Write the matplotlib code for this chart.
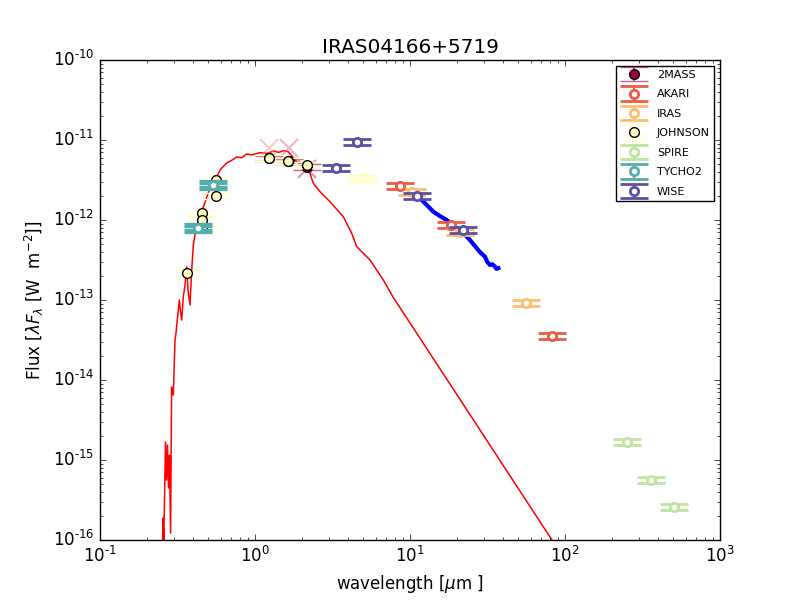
import numpy as np
import matplotlib
matplotlib.use('Agg')
import matplotlib.pyplot as plt
from matplotlib.container import ErrorbarContainer
from matplotlib.legend_handler import HandlerErrorbar
from matplotlib.ticker import FuncFormatter

plt.style.use('classic')
plt.rcParams['mathtext.fontset'] = 'dejavusans'
plt.rcParams['axes.unicode_minus'] = False

# photospheric model (um, W m-2)
model_wave = [0.2530, 0.2549, 0.2580, 0.2646, 0.2686, 0.2726, 0.2767, 0.2808, 0.2854,
              0.2897, 0.2971, 0.3047, 0.3092, 0.3162, 0.3248, 0.3307, 0.3366, 0.3446,
              0.3535, 0.3625, 0.3696, 0.3807, 0.3905, 0.3999, 0.4101, 0.4206, 0.4417,
              0.4639, 0.4995, 0.528, 0.5663, 0.5944, 0.6569, 0.7000, 0.7620, 0.8200,
              0.8842, 0.9500, 1.077, 1.200, 1.313, 1.420, 1.522, 1.640, 1.858, 2.156,
              2.264, 2.377, 2.627, 3.047, 3.713, 4.206, 4.530, 5.52, 6.725, 7.77, 82.4, 100.0]
model_flux = [8.7e-17, 1.88e-16, 1.0e-16, 1.68e-15, 5.6e-16, 1.54e-15, 4.47e-16, 1.15e-15, 1.22e-16,
              8.2e-15, 6.5e-15, 3.16e-14, 3.87e-14, 5.96e-14, 1.0e-13, 7.08e-14, 5.62e-14, 1.09e-13,
              1.54e-13, 2.59e-13, 1.33e-13, 8.66e-14, 2.37e-13, 4.87e-13, 6.5e-13, 8.18e-13, 1.15e-12,
              1.45e-12, 2.18e-12, 2.82e-12, 3.45e-12, 4.22e-12, 5.16e-12, 5.5e-12, 6.13e-12, 6.0e-12,
              6.68e-12, 6.5e-12, 6.94e-12, 6.8e-12, 7.29e-12, 7.0e-12, 7.35e-12, 7.14e-12, 5.36e-12, 4.43e-12,
              3.84e-12, 2.88e-12, 2.26e-12, 1.69e-12, 1.10e-12, 6.82e-13, 4.64e-13, 3.16e-13, 1.78e-13, 1.09e-13,
              1.0e-16, 5.6e-17]

# IRS spectrum
irs_wave = [11.26, 11.9, 13.0, 14.14, 15.6, 17.25, 18.5, 20.01, 22.0, 24.38, 26.94,
            28.5, 30.47, 31.5, 32.82, 34.0, 35.35, 36.2, 37.13]
irs_flux = [1.94e-12, 1.78e-12, 1.5e-12, 1.27e-12, 1.12e-12, 1.0e-12, 8.9e-13, 7.87e-13, 6.9e-13,
            5.62e-13, 4.43e-13, 3.9e-13, 3.48e-13, 3.0e-13, 2.74e-13, 2.8e-13, 2.61e-13, 2.45e-13, 2.5e-13]

twomass_wave = [1.235, 1.662, 2.159]
twomass_flux = [5.9e-12, 5.4e-12, 4.6e-12]
twomass_x_wave = [1.235, 1.662, 2.17]
twomass_x_flux = [7.9e-12, 7.9e-12, 4.4e-12]
twomass_x_colors = ['#e8a080', '#d87090', '#b03060']

akari_wave = [8.6, 18.4, 82.0]
akari_flux = [2.66e-12, 8.66e-13, 3.55e-14]

iras_wave = [10.3, 21.0, 56.0]
iras_flux = [2.26e-12, 7.14e-13, 9.2e-14]

johnson_wave = [0.364, 0.457, 0.457, 0.457, 0.558, 0.558, 1.23, 1.63, 2.16]
johnson_flux = [2.18e-13, 1.23e-12, 1.0e-12, 7.9e-13, 3.2e-12, 2.0e-12, 5.96e-12, 5.46e-12, 4.87e-12]
johnson_open_wave = [5.0]
johnson_open_flux = [3.32e-12]

spire_wave = [251, 359, 505]
spire_flux = [1.68e-15, 5.6e-16, 2.6e-16]

tycho_wave = [0.429, 0.536]
tycho_flux = [7.94e-13, 2.74e-12]

wise_wave = [3.33, 4.55, 11.1, 22.0]
wise_flux = [4.47e-12, 9.44e-12, 2.0e-12, 7.5e-13]

names = ['2MASS', 'AKARI', 'IRAS', 'JOHNSON', 'SPIRE', 'TYCHO2', 'WISE']
colors = plt.cm.Spectral(np.linspace(0, 1, len(names)))
c = dict(zip(names, colors))

ERR = 0.08  # fractional flux error


def phot(ax, wave, flux, color, filled=False, capthick=2.0, alpha=1.0, ms=6, z=3, err=ERR):
    flux = np.asarray(flux, dtype=float)
    if filled:
        kw = dict(mfc=color, mec='k', mew=1, ms=7)
    else:
        kw = dict(mfc='white', mec=color, mew=2, ms=ms)
    eb = ax.errorbar(wave, flux, yerr=flux * err, fmt='o', ecolor=color, elinewidth=1.5,
                     capsize=10, zorder=z, **kw)
    # mew in kwargs wins over capthick, so set the caps afterwards
    for cap in eb[1]:
        cap.set_markeredgewidth(capthick)
    for art in eb[1] + eb[2]:
        art.set_alpha(alpha)
    return eb


def pow10(v, pos):
    e = int(round(np.log10(v)))
    if e < 0:
        return r'$\mathdefault{10^{\text{-}%d}}$' % (-e)
    return r'$\mathdefault{10^{%d}}$' % e


fig = plt.figure(figsize=(8, 6), dpi=100)
ax = fig.add_subplot(111)

ax.plot(model_wave, model_flux, '-', color='red', lw=1.1, zorder=2)
ax.plot(irs_wave, irs_flux, '-', color='blue', lw=3, zorder=2)

h = {}
for xw, xf, xc in zip(twomass_x_wave, twomass_x_flux, twomass_x_colors):
    ax.plot(xw, xf, 'x', color=xc, ms=13, mew=1.5, alpha=0.5, zorder=3)
h['2MASS'] = phot(ax, twomass_wave, twomass_flux, c['2MASS'], filled=True,
                  capthick=1.0, alpha=0.6, z=3)
h['JOHNSON'] = phot(ax, johnson_wave, johnson_flux, c['JOHNSON'], filled=True,
                    capthick=1.0, z=5)
phot(ax, johnson_open_wave, johnson_open_flux, c['JOHNSON'], z=4)
phot(ax, tycho_wave, tycho_flux, c['TYCHO2'], capthick=3.8, z=6)
# legend proxy with the normal cap width
h['TYCHO2'] = phot(ax, [np.nan], [np.nan], c['TYCHO2'])
h['AKARI'] = phot(ax, akari_wave, akari_flux, c['AKARI'])
h['IRAS'] = phot(ax, iras_wave, iras_flux, c['IRAS'])
h['WISE'] = phot(ax, wise_wave, wise_flux, c['WISE'], z=4)
h['SPIRE'] = phot(ax, spire_wave, spire_flux, c['SPIRE'])

ax.set_xscale('log')
ax.set_yscale('log')
ax.set_xlim(0.1, 1000)
ax.set_ylim(1e-16, 1e-10)
ax.xaxis.set_major_formatter(FuncFormatter(pow10))
ax.yaxis.set_major_formatter(FuncFormatter(pow10))
ax.set_title('IRAS04166+5719')
ax.set_xlabel(r'wavelength [$\mu$m ]')
ax.set_ylabel(r'Flux [$\lambda F_{\lambda}$ [W  m$^{-2}$]]')

ax.legend([h[n] for n in names], names, loc='upper right', fontsize=8, numpoints=1,
          handlelength=2.5, labelspacing=0.85,
          handler_map={ErrorbarContainer: HandlerErrorbar(xerr_size=0.5, yerr_size=0.65)})

fig.savefig('out.png', dpi=100, facecolor='white')
